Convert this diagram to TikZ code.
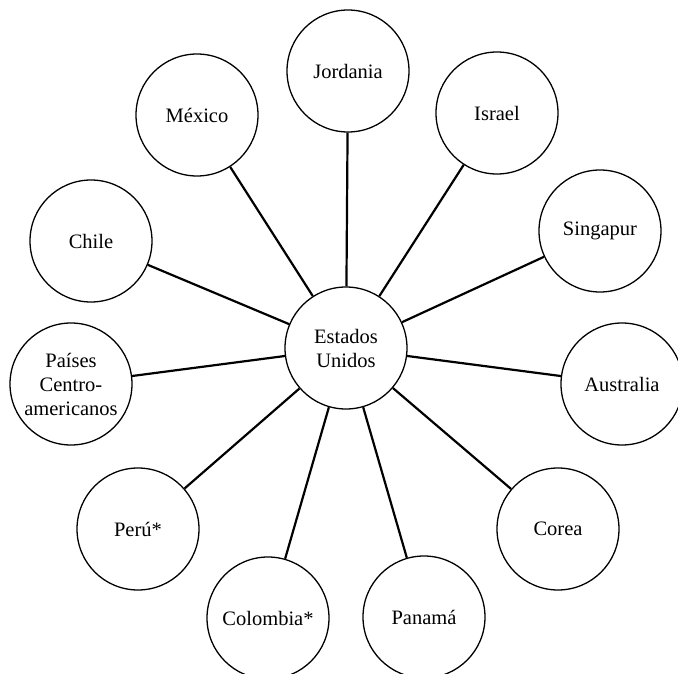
\documentclass[tikz,border=0pt]{standalone}
\usepackage{fontspec}
\setmainfont{Liberation Serif}
\usepackage{tikz}
\usepackage{xcolor}

\begin{document}
\begin{tikzpicture}[x=1pt,y=-1pt,
		pais/.style={circle,draw,line width=1.3pt,minimum size=122pt,inner sep=0pt,align=center,font=\fontsize{20.5}{24}\selectfont},
		enlace/.style={line width=2.2pt}]
		\useasboundingbox (0,0) rectangle (678,674);
		%paises
		\draw (346,348) node[pais](eu){Estados\\Unidos};
		\draw (348,71) node[pais](jordania){Jordania} (497,113) node[pais](israel){Israel};
		\draw (197,115) node[pais](mexico){México} (91,241) node[pais](chile){Chile};
		\draw (600,231) node[pais](singapur){Singapur} (622,384) node[pais](australia){Australia};
		\draw (71,384) node[pais](centro){Países\\Centro-\\americanos};
		\draw (138,529) node[pais](peru){Perú*} (558,529) node[pais](corea){Corea};
		\draw (268,618) node[pais](colombia){Colombia*} (424,617) node[pais](panama){Panamá};
		%enlaces
		\draw[enlace] (eu) -- (jordania) (eu) -- (israel) (eu) -- (mexico) (eu) -- (chile);
		\draw[enlace] (eu) -- (singapur) (eu) -- (australia) (eu) -- (centro);
		\draw[enlace] (eu) -- (peru) (eu) -- (corea) (eu) -- (colombia) (eu) -- (panama);
	\end{tikzpicture}
\end{document}
